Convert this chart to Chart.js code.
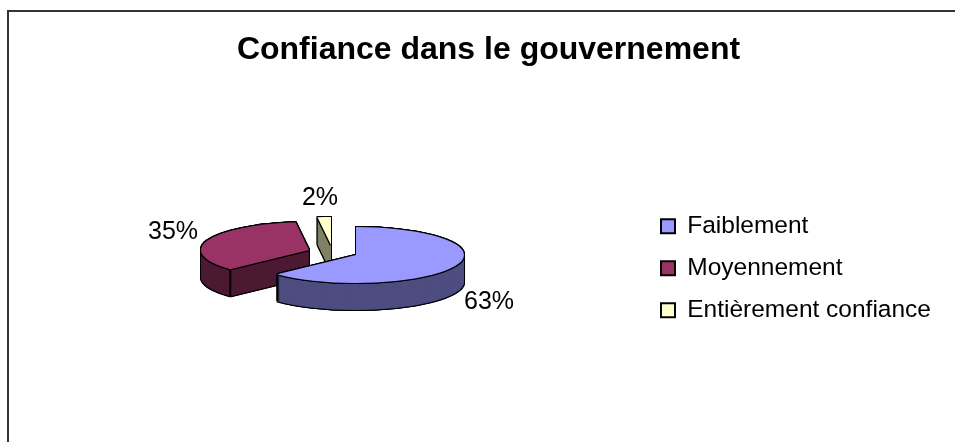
<!DOCTYPE html>
<html lang="fr">
<head>
<meta charset="utf-8">
<style>
html,body{margin:0;padding:0;background:#fff;overflow:hidden}
#frame{position:absolute;left:7px;top:10px;width:960px;height:440px;border-top:2px solid #333;border-left:2px solid #333}
canvas{position:absolute;left:0;top:0}
</style>
<script src="https://cdn.jsdelivr.net/npm/chart.js@4"></script>
</head>
<body>
<div id="frame"></div>
<canvas id="c" width="955" height="442"></canvas>
<script>
const categories = ['Faiblement', 'Moyennement', 'Entièrement confiance'];
const values = [63, 35, 2];
const topColors = ['#9999FF', '#993366', '#FFFFCC'];
const sideColors = ['#4D4D80', '#4D1A33', '#808066'];

const pieCenter = {x: 356, y: 255};
const pieRadius = 108;
const tilt = 28 / 108;
const depth = 27;
const explode = [[0, 0], [-47, -5], [-25, -10]];
const labelOffset = [[133, 47], [-183, -23], [-36, -57]];
const drawOrder = [2, 1, 0];
const fontFamily = '"Liberation Sans", Arial, sans-serif';

const tiltedPie = {
  id: 'tiltedPie',
  beforeDatasetsDraw(chart) {
    const ctx = chart.ctx;
    const arcs = chart.getDatasetMeta(0).data;
    const paint = (el, color, dx, dy) => {
      const saved = el.options;
      el.options = Object.assign({}, saved, {backgroundColor: color, borderWidth: 0});
      ctx.save();
      ctx.translate(pieCenter.x + dx, pieCenter.y + dy);
      ctx.scale(1, tilt);
      ctx.translate(-el.x, -el.y);
      el.draw(ctx);
      ctx.restore();
      el.options = saved;
    };
    const halo = [[-1,-1],[1,-1],[-1,1],[1,1],[0,-1],[0,1],[-1,0],[1,0]];
    drawOrder.forEach(i => {
      const el = arcs[i];
      const [ex, ey] = explode[i];
      for (let d = depth; d >= 0; d--) {
        halo.forEach(h => paint(el, '#000', ex + h[0], ey + d + h[1]));
      }
      for (let d = depth; d >= 1; d--) paint(el, sideColors[i], ex, ey + d);
      [el.startAngle, el.endAngle].forEach(a => {
        if (Math.sin(a) > 0.05) {
          const px = pieCenter.x + ex + Math.cos(a) * el.outerRadius;
          const py = pieCenter.y + ey + Math.sin(a) * el.outerRadius * tilt;
          ctx.save();
          ctx.strokeStyle = '#000';
          ctx.lineWidth = 2;
          ctx.beginPath();
          ctx.moveTo(px, py);
          ctx.lineTo(px, py + depth);
          ctx.stroke();
          ctx.restore();
        }
      });
      halo.forEach(h => paint(el, '#000', ex + h[0], ey + h[1]));
      paint(el, topColors[i], ex, ey);
    });
    const total = values.reduce((a, b) => a + b, 0);
    ctx.save();
    ctx.fillStyle = '#000';
    ctx.font = '25px ' + fontFamily;
    ctx.textAlign = 'center';
    ctx.textBaseline = 'middle';
    values.forEach((v, i) => {
      ctx.fillText(Math.round(v / total * 100) + '%', pieCenter.x + labelOffset[i][0], pieCenter.y + labelOffset[i][1]);
    });
    ctx.restore();
    return false;
  }
};

new Chart(document.getElementById('c'), {
  type: 'pie',
  data: {
    labels: categories,
    datasets: [{
      data: values,
      backgroundColor: topColors,
      borderColor: '#000',
      borderWidth: 2,
      radius: pieRadius
    }]
  },
  plugins: [tiltedPie],
  options: {
    responsive: false,
    animation: false,
    layout: {padding: {left: 36, top: 0, right: 14, bottom: 0}},
    plugins: {
      tooltip: {enabled: false},
      title: {
        display: true,
        text: 'Confiance dans le gouvernement',
        color: '#000',
        font: {family: fontFamily, size: 32, weight: 'bold'},
        padding: {top: 31, bottom: 25}
      },
      legend: {
        position: 'right',
        fullSize: false,
        labels: {
          color: '#000',
          font: {family: fontFamily, size: 24.5},
          boxWidth: 14,
          boxHeight: 14,
          padding: 17.5
        }
      }
    }
  }
});
</script>
</body>
</html>
